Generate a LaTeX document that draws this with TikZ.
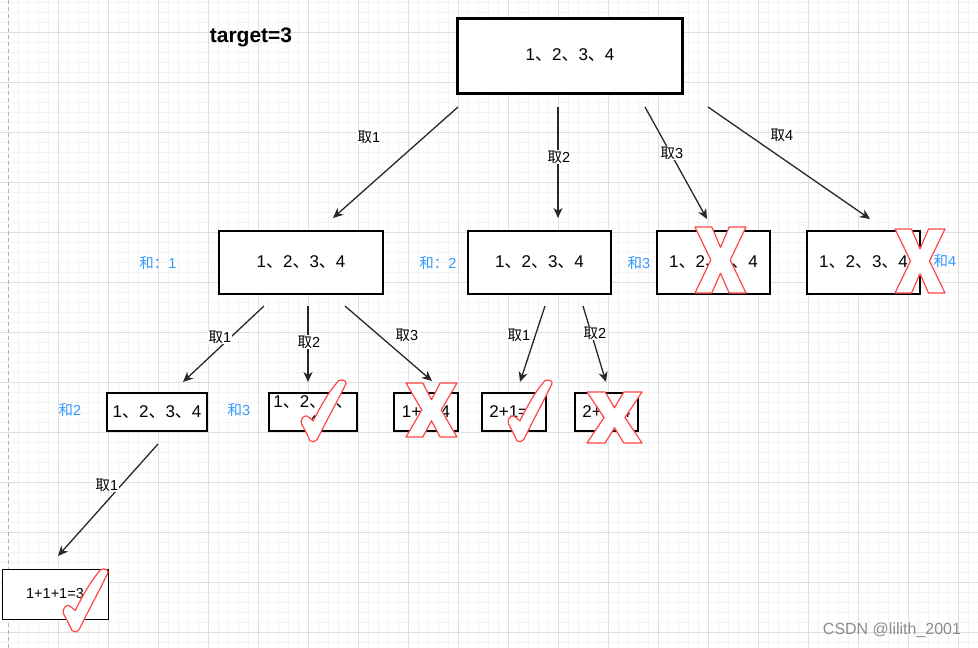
\documentclass[tikz,border=0pt]{standalone}
\usepackage{fontspec}
\setmainfont{Liberation Sans}
\newfontfamily\cjk{Noto Sans CJK SC}
\usetikzlibrary{arrows.meta}
\newcommand\zh[1]{{\cjk #1}}
\definecolor{hblue}{RGB}{51,153,255}
\definecolor{xred}{RGB}{255,70,70}
\definecolor{gminor}{RGB}{243,243,243}
\definecolor{gmajor}{RGB}{222,222,222}
\definecolor{edgec}{RGB}{40,40,40}
\tikzset{
  f17/.style={font=\fontsize{17}{20}\selectfont},
  box1/.style={draw=black, line width=3pt, minimum width=225pt, minimum height=75pt, inner sep=0pt, fill=white, f17},
  box2/.style={draw=black, line width=2.2pt, minimum height=63pt, inner sep=0pt, fill=white, f17},
  box3/.style={draw=black, line width=2pt, minimum height=38pt, inner sep=0pt, fill=white, f17},
  box4/.style={draw=black, line width=1pt, minimum width=106pt, minimum height=50pt, inner sep=0pt, fill=white, font=\fontsize{14.5}{16}\selectfont},
  elab/.style={fill=white, inner sep=1pt, font=\fontsize{14.5}{16}\selectfont},
  slab/.style={text=hblue, inner sep=0pt, font=\fontsize{14.5}{16}\selectfont},
  arr/.style={draw=edgec, line width=1.3pt, -{Stealth[length=10pt,width=9pt,inset=3pt]}},
  xmk/.style={draw=xred, line width=1.2pt, fill=white, line join=round},
}
\newcommand\chkmark[4]{%
  \begin{scope}[shift={(#1,#2)}, xscale=#3, yscale=#4]
    \draw[xmk] (0.84,0.01) .. controls (0.92,-0.01) and (1.0,0.0) .. (1.0,0.06)
      .. controls (0.78,0.38) and (0.52,0.72) .. (0.36,0.96)
      .. controls (0.32,1.0) and (0.24,1.01) .. (0.2,0.98)
      .. controls (0.14,0.88) and (0.07,0.78) .. (0.01,0.71)
      .. controls (-0.02,0.64) and (0.05,0.57) .. (0.13,0.58)
      .. controls (0.18,0.6) and (0.23,0.63) .. (0.27,0.66)
      .. controls (0.42,0.45) and (0.6,0.2) .. (0.84,0.01) -- cycle;
  \end{scope}}
\newcommand\crossx[4]{%
  \begin{scope}[shift={(#1,#2)}, xscale=#3, yscale=#4]
    \draw[xmk] (0,0) -- (0.33,0) -- (0.5,0.31) -- (0.67,0) -- (1,0) -- (0.69,0.5)
      -- (1,1) -- (0.67,1) -- (0.5,0.7) -- (0.33,1) -- (0,1) -- (0.31,0.5) -- cycle;
  \end{scope}}
\begin{document}
\begin{tikzpicture}[x=1pt,y=-1pt]
\useasboundingbox (0,0) rectangle (978,648);
% background grid
\fill[white] (0,0) rectangle (978,648);
\foreach \x in {8,18,...,978} \draw[gminor, line width=1pt] (\x,0) -- (\x,648);
\foreach \y in {2,12,...,642} \draw[gminor, line width=1pt] (0,\y) -- (978,\y);
\foreach \x in {58,108,...,958} \draw[gmajor, line width=1pt] (\x,0) -- (\x,648);
\foreach \y in {32,82,...,632} \draw[gmajor, line width=1pt] (0,\y) -- (978,\y);
\draw[black!30, line width=1pt, dash pattern=on 4pt off 3pt] (8,0) -- (8,648);

% title
\node[font=\fontsize{21}{24}\selectfont\bfseries, inner sep=0pt] (title) at (251,37) {target=3};

% connector end points
\coordinate (t1s) at (458,107); \coordinate (t1e) at (333,218);
\coordinate (t2s) at (558,107); \coordinate (t2e) at (558,218);
\coordinate (t3s) at (645,107); \coordinate (t3e) at (707,219);
\coordinate (t4s) at (708,107); \coordinate (t4e) at (870,219);
\coordinate (u1s) at (264,306); \coordinate (u1e) at (183,382);
\coordinate (u2s) at (308,306); \coordinate (u2e) at (308,382);
\coordinate (u3s) at (345,306); \coordinate (u3e) at (432,381);
\coordinate (v1s) at (545,306); \coordinate (v1e) at (520,382);
\coordinate (v2s) at (583,306); \coordinate (v2e) at (606,382);
\coordinate (w1s) at (158,444); \coordinate (w1e) at (58,556);

\draw[arr] (t1s) -- (t1e);
\draw[arr] (t2s) -- (t2e);
\draw[arr] (t3s) -- (t3e);
\draw[arr] (t4s) -- (t4e);
\draw[arr] (u1s) -- (u1e);
\draw[arr] (u2s) -- (u2e);
\draw[arr] (u3s) -- (u3e);
\draw[arr] (v1s) -- (v1e);
\draw[arr] (v2s) -- (v2e);
\draw[arr] (w1s) -- (w1e);

% connector labels
\node[elab] (lt1) at (369,137) {\zh{取}1};
\node[elab] (lt2) at (559,157) {\zh{取}2};
\node[elab] (lt3) at (672,153) {\zh{取}3};
\node[elab] (lt4) at (782,135) {\zh{取}4};
\node[elab] (lu1) at (220,337) {\zh{取}1};
\node[elab] (lu2) at (309,342) {\zh{取}2};
\node[elab] (lu3) at (407,335) {\zh{取}3};
\node[elab] (lv1) at (519,335) {\zh{取}1};
\node[elab] (lv2) at (595,333) {\zh{取}2};
\node[elab] (lw1) at (107,485) {\zh{取}1};

% boxes
\node[box1] (top) at (570,55.5) {1\zh{、}2\zh{、}3\zh{、}4};
\node[box2, minimum width=164pt] (b1) at (301,262.5) {1\zh{、}2\zh{、}3\zh{、}4};
\node[box2, minimum width=143pt] (b2) at (539.5,262.5) {1\zh{、}2\zh{、}3\zh{、}4};
\node[box2, minimum width=113pt] (b3) at (713.5,262.5) {1\zh{、}2\zh{、}3\zh{、}4};
\node[box2, minimum width=113pt] (b4) at (863.5,262.5) {1\zh{、}2\zh{、}3\zh{、}4};
\node[box3, minimum width=100pt] (c1) at (157,412) {1\zh{、}2\zh{、}3\zh{、}4};
\node[box3, minimum width=88pt, align=center] (c2) at (313,412) {1\zh{、}2\zh{、}3\zh{、}\\4};
\node[box3, minimum width=64pt] (c3) at (426,412) {1+3=4};
\node[box3, minimum width=64pt] (c4) at (513.5,412) {2+1=3};
\node[box3, minimum width=63pt] (c5) at (606.5,412) {2+2=4};
\node[box4] (d1) at (55,594) {1+1+1=3};

% marks
\crossx{695}{227}{51}{66}
\crossx{895}{229}{50}{64}
\chkmark{301}{380}{45}{62}
\crossx{406}{383}{51}{54}
\chkmark{508}{380}{44}{62}
\crossx{587}{392}{55}{51}
\chkmark{63}{569}{45}{63}

% side labels
\node[slab] (s1) at (158,263) {\zh{和：}1};
\node[slab] (s2) at (438,263) {\zh{和：}2};
\node[slab] (s3) at (639,263) {\zh{和}3};
\node[slab] (s4) at (945,261) {\zh{和}4};
\node[slab] (s5) at (70,410) {\zh{和}2};
\node[slab] (s6) at (239,410) {\zh{和}3};

% watermark
\node[text=black!45, inner sep=0pt, font=\fontsize{16}{18}\selectfont] (wm) at (892,630) {CSDN @lilith\_2001};
\end{tikzpicture}
\end{document}
